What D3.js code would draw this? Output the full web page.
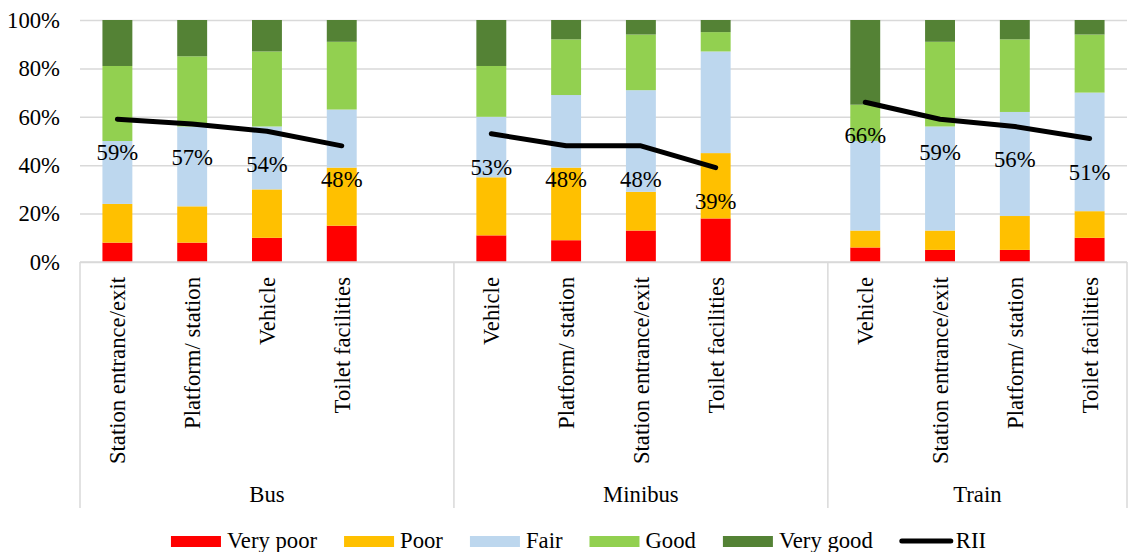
<!DOCTYPE html>
<html>
<head>
<meta charset="utf-8">
<script src="https://cdn.jsdelivr.net/npm/d3@7"></script>
<style>
  body { margin: 0; background: #fff; }
  svg text { font-family: "Liberation Serif", "Times New Roman", serif; font-size: 22.7px; fill: #000; }
</style>
</head>
<body>
<svg width="1129" height="552"></svg>
<script>
var modes = ['Bus', 'Minibus', 'Train']
var busItems = ['Station entrance/exit', 'Platform/ station', 'Vehicle', 'Toilet facilities']
var minibusItems = ['Vehicle', 'Platform/ station', 'Station entrance/exit', 'Toilet facilities']
var trainItems = ['Vehicle', 'Station entrance/exit', 'Platform/ station', 'Toilet facilities']

// Bus x4, Minibus x4, Train x4 (percent)
var veryPoor = [8, 8, 10, 15, 11, 9, 13, 18, 6, 5, 5, 10]
var poor = [16, 15, 20, 24, 24, 30, 16, 27, 7, 8, 14, 11]
var fair = [26, 33, 26, 24, 25, 30, 42, 42, 37, 43, 43, 49]
var good = [31, 29, 31, 28, 21, 23, 23, 8, 15, 35, 30, 24]
var veryGood = [19, 15, 13, 9, 19, 8, 6, 5, 35, 9, 8, 6]
var rii = [59, 57, 54, 48, 53, 48, 48, 39, 66, 59, 56, 51]

var seriesNames = ['Very poor', 'Poor', 'Fair', 'Good', 'Very good']
var colors = ['#ff0000', '#ffc000', '#bdd7ee', '#92d050', '#548235']
var yTicks = [0, 20, 40, 60, 80, 100]

var svg = d3.select('svg')
var plotLeft = 80, plotRight = 1127, plotTop = 20, plotBottom = 262

// build slots: each mode gets its items, bus and minibus have one empty slot after
var itemLists = [busItems, minibusItems, trainItems]
var rows = []
var slots = []
var k = 0
itemLists.forEach((items, g) => {
    items.forEach((name) => {
        var key = modes[g] + '|' + name
        slots.push(key)
        rows.push({
            key: key, mode: modes[g], name: name, rii: rii[k],
            'Very poor': veryPoor[k], 'Poor': poor[k], 'Fair': fair[k], 'Good': good[k], 'Very good': veryGood[k]
        })
        k++
    })
    if (g < itemLists.length - 1) slots.push(modes[g] + '|gap')
})

var x = d3.scaleBand().domain(slots).range([plotLeft, plotRight]).paddingInner(0.6).paddingOuter(0.3)
var y = d3.scaleLinear().domain([0, 100]).range([plotBottom, plotTop])

// gridlines + y labels
var yAxis = svg.append('g')
    .attr('transform', 'translate(' + plotLeft + ',0)')
    .call(d3.axisLeft(y).tickValues(yTicks).tickSize(-(plotRight - plotLeft)).tickPadding(20).tickFormat((d) => d + '%'))
yAxis.select('.domain').remove()
yAxis.selectAll('line').attr('stroke', '#d9d9d9').attr('stroke-width', 1.5)
yAxis.attr('font-family', null).attr('font-size', null)

// stacked bars
var stacked = d3.stack().keys(seriesNames)(rows)
svg.append('g').selectAll('g')
    .data(stacked)
    .enter()
    .append('g')
    .attr('fill', (d, i) => colors[i])
    .selectAll('rect')
    .data((d) => d)
    .enter()
    .append('rect')
    .attr('x', (d) => x(d.data.key))
    .attr('width', x.bandwidth())
    .attr('y', (d) => y(d[1]))
    .attr('height', (d) => y(d[0]) - y(d[1]))

// category axis lines
var groupEdges = [plotLeft]
modes.forEach((m, g) => {
    var keys = slots.filter((s) => s.indexOf(m + '|') === 0)
    var last = keys[keys.length - 1]
    groupEdges.push(g < modes.length - 1 ? x(last) + x.bandwidth() + x.step() * 0.3 : plotRight)
})
svg.append('line').attr('x1', plotLeft).attr('x2', plotRight).attr('y1', plotBottom).attr('y2', plotBottom)
    .attr('stroke', '#d9d9d9').attr('stroke-width', 1.5)
svg.append('g').selectAll('line')
    .data(groupEdges)
    .enter()
    .append('line')
    .attr('x1', (d) => d).attr('x2', (d) => d)
    .attr('y1', plotBottom).attr('y2', 508)
    .attr('stroke', '#d9d9d9').attr('stroke-width', 1.5)

// rotated item labels
svg.append('g').selectAll('text')
    .data(rows)
    .enter()
    .append('text')
    .attr('transform', (d) => 'translate(' + (x(d.key) + x.bandwidth() / 2) + ',277) rotate(-90)')
    .attr('text-anchor', 'end')
    .attr('dy', '0.35em')
    .text((d) => d.name)

// mode labels
svg.append('g').selectAll('text')
    .data(modes)
    .enter()
    .append('text')
    .attr('x', (d, i) => (groupEdges[i] + groupEdges[i + 1]) / 2)
    .attr('y', 502)
    .attr('text-anchor', 'middle')
    .text((d) => d)

// RII lines, one per mode
var line = d3.line()
    .x((d) => x(d.key) + x.bandwidth() / 2)
    .y((d) => y(d.rii))
modes.forEach((m) => {
    svg.append('path')
        .datum(rows.filter((r) => r.mode === m))
        .attr('d', line)
        .attr('fill', 'none')
        .attr('stroke', '#000')
        .attr('stroke-width', 5)
        .attr('stroke-linejoin', 'round')
        .attr('stroke-linecap', 'round')
})
svg.append('g').selectAll('text')
    .data(rows)
    .enter()
    .append('text')
    .attr('x', (d) => x(d.key) + x.bandwidth() / 2)
    .attr('y', (d) => y(d.rii) + 41)
    .attr('text-anchor', 'middle')
    .text((d) => d.rii + '%')

// legend
var legend = svg.append('g')
var lx = 0
var legendItems = seriesNames.concat(['RII'])
legendItems.forEach((name, i) => {
    var item = legend.append('g').attr('transform', 'translate(' + lx + ',0)')
    if (name === 'RII') {
        item.append('line').attr('x1', 2).attr('x2', 51).attr('y1', 541).attr('y2', 541)
            .attr('stroke', '#000').attr('stroke-width', 5).attr('stroke-linecap', 'round')
    } else {
        item.append('rect').attr('x', 0).attr('y', 536).attr('width', 50).attr('height', 11).attr('fill', colors[i])
    }
    var t = item.append('text').attr('x', 56).attr('y', 548).text(name)
    lx += 56 + t.node().getComputedTextLength() + 27
})
var legendWidth = lx - 27
legend.attr('transform', 'translate(' + (578.5 - legendWidth / 2) + ',0)')
</script>
</body>
</html>
